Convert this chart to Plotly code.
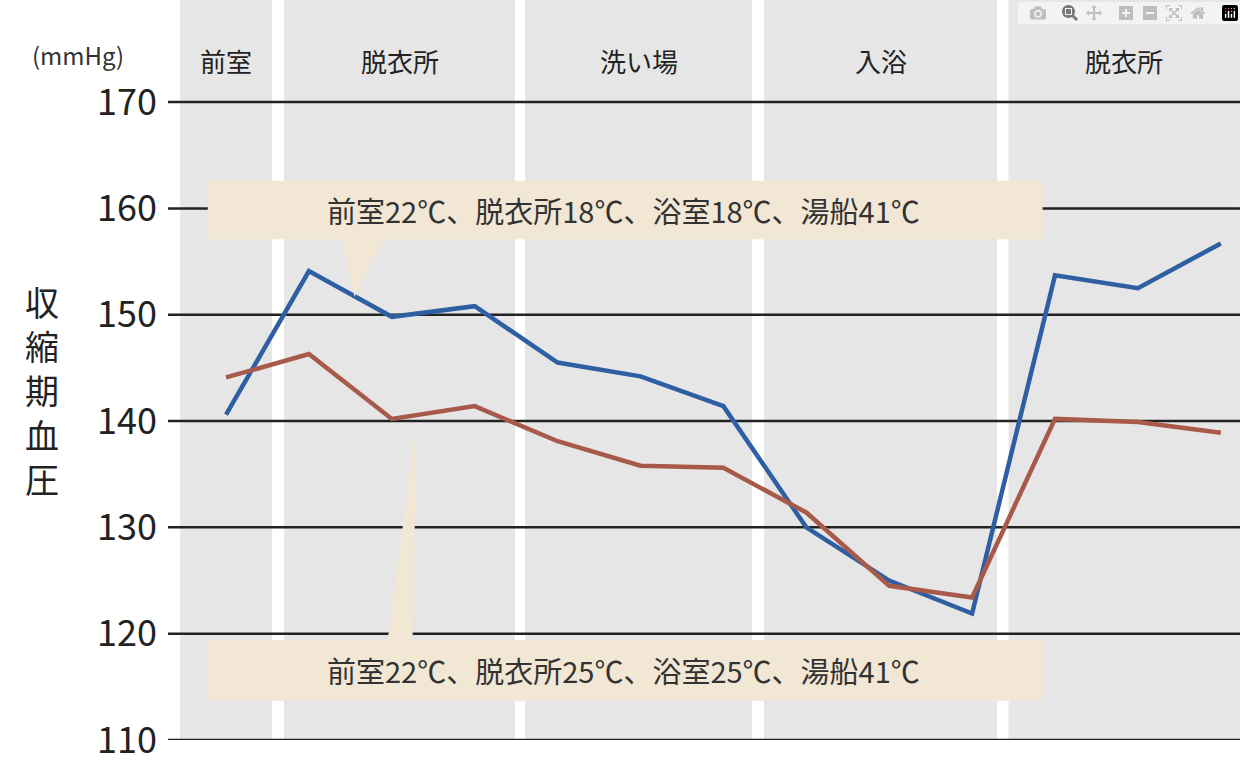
import plotly.graph_objects as go

x_idx = list(range(13))
blue = [140.6, 154.1, 149.8, 150.8, 145.5, 144.2, 141.4, 130.0, 125.0, 121.9, 153.7, 152.5, 156.7]
red = [144.1, 146.3, 140.2, 141.4, 138.1, 135.8, 135.6, 131.4, 124.5, 123.4, 140.2, 139.9, 138.9]
sections = ["前室", "脱衣所", "洗い場", "入浴", "脱衣所"]
sec_ranges = [(-0.555, 0.555), (0.70, 3.486), (3.607, 6.345), (6.49, 9.30), (9.44, 12.23)]
yticks = [110, 120, 130, 140, 150, 160, 170]
label1 = "前室22℃、脱衣所18℃、浴室18℃、湯船41℃"
label2 = "前室22℃、脱衣所25℃、浴室25℃、湯船41℃"

font = "Noto Sans CJK JP"
fig = go.Figure()
shapes = []
for (a, b) in sec_ranges:
    shapes.append(dict(type="rect", xref="x", yref="paper", x0=a, x1=b, y0=0, y1=1,
                       fillcolor="#e6e6e6", line_width=0, layer="below"))
for t in yticks:
    shapes.append(dict(type="line", xref="paper", yref="y", x0=0, x1=0.9963, y0=t, y1=t,
                       line=dict(color="#222", width=2.5), layer="below"))
beige = "#f2e6d4"
shapes.append(dict(type="rect", x0=-0.22, x1=9.85, y0=157.1, y1=162.6, fillcolor=beige, line_width=0))
shapes.append(dict(type="path", path="M 1.4,157.1 L 1.55,151.7 L 1.9,157.1 Z", fillcolor=beige, line_width=0))
shapes.append(dict(type="rect", x0=-0.22, x1=9.85, y0=113.7, y1=119.4, fillcolor=beige, line_width=0))
shapes.append(dict(type="path", path="M 1.95,119.4 L 2.3,140.0 L 2.25,119.4 Z", fillcolor=beige, line_width=0))

fig.add_trace(go.Scatter(x=x_idx, y=blue, mode="lines", line=dict(color="#2e5fa3", width=4.5)))
fig.add_trace(go.Scatter(x=x_idx, y=red, mode="lines", line=dict(color="#a85a4a", width=4.5)))

ann = []
for name, (a, b) in zip(sections, sec_ranges):
    ann.append(dict(x=(a + b) / 2, y=1 - 60 / 740, xref="x", yref="paper", text=name, showarrow=False,
                    yanchor="middle", font=dict(size=26, color="#222")))
ann.append(dict(x=4.8, y=159.85, text=label1, showarrow=False, font=dict(size=29, color="#333")))
ann.append(dict(x=4.8, y=116.55, text=label2, showarrow=False, font=dict(size=29, color="#333")))
ann.append(dict(xref="paper", yref="paper", x=-0.128, y=1 - 35 / 740, text="(mmHg)", showarrow=False,
                xanchor="left", font=dict(size=24, color="#333")))
ann.append(dict(xref="paper", yref="paper", x=-0.135, y=1 - 390 / 740, text="収<br>縮<br>期<br>血<br>圧",
                showarrow=False, font=dict(size=34, color="#222")))

fig.update_layout(
    width=1244, height=762, margin=dict(l=168, r=0, t=0, b=22),
    paper_bgcolor="white", plot_bgcolor="white", showlegend=False,
    font=dict(family=font), shapes=shapes, annotations=ann,
    xaxis=dict(range=[-0.70, 12.28], showgrid=False, zeroline=False, showticklabels=False, fixedrange=True),
    yaxis=dict(range=[110, 179.6], tickvals=yticks, showgrid=False, zeroline=False,
               tickfont=dict(size=36, color="#222"), ticks="", ticklabelstandoff=10,
               ticklabeloverflow="allow"),
)
fig.write_html("out.html")
with open("out.html", encoding="utf-8") as f:
    html = f.read()
html = html.replace("<body>", '<body style="margin:0;overflow:hidden">', 1)
with open("out.html", "w", encoding="utf-8") as f:
    f.write(html)
